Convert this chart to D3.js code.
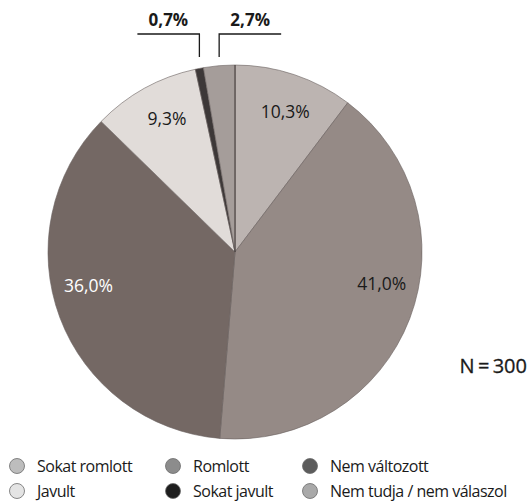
<!DOCTYPE html>
<html>
<head>
<meta charset="utf-8">
<script src="https://cdn.jsdelivr.net/npm/d3@7"></script>
<style>
  body { margin: 0; background: #fff; }
  svg { font-family: "Open Sans", sans-serif; }
</style>
</head>
<body>
<svg id="chart" width="528" height="502"></svg>
<script>
// Data.
var categories = [ 'Sokat romlott', 'Romlott', 'Nem változott', 'Javult', 'Sokat javult', 'Nem tudja / nem válaszol' ];
var values     = [ 10.3, 41.0, 36.0, 9.3, 0.7, 2.7 ];
var sampleNote = 'N\u2009=\u2009300';

// Slice fills and legend swatches (legend uses plain greys).
var sliceColors  = [ '#bcb4b1', '#958a86', '#746864', '#e1dcd9', '#3d3838', '#a59d9a' ];
var legendColors = [ '#bdbdbd', '#8c8c8c', '#5c5c5c', '#e4e4e4', '#1e1e1e', '#a9a9a9' ];
var labelColors  = [ '#1a1a1a', '#1a1a1a', '#ffffff', '#1a1a1a' ];
// Small angle nudges (degrees) for the inside labels.
var labelNudge   = [ 1, -9, 8, 2 ];
// Callout direction for the two tiny slices.
var calloutDir   = { 4: -1, 5: 1 };

var svg = d3.select( '#chart' );

var cx = 235, cy = 252, radius = 187;

var fmt = function( v ) { return d3.format( '.1f' )( v ).replace( '.', ',' ) + '%'; };

var pie = d3.pie().sort( null ).value( function( d ) { return d; } );
var arcs = pie( values );

var arc = d3.arc().innerRadius( 0 ).outerRadius( radius );

var g = svg.append( 'g' )
  .attr( 'transform', 'translate(' + cx + ',' + cy + ')' );

g.selectAll( 'path.slice' )
  .data( arcs )
  .enter()
  .append( 'path' )
    .attr( 'class', 'slice' )
    .attr( 'd', arc )
    .style( 'fill', function( d, i ) { return sliceColors[ i ]; } )
    .style( 'stroke', '#6a6260' )
    .style( 'stroke-width', 0.6 );

// Dark seam at 12 o'clock.
g.append( 'line' )
  .attr( 'x1', 0 ).attr( 'y1', 0 )
  .attr( 'x2', 0 ).attr( 'y2', -radius )
  .style( 'stroke', '#3a3434' )
  .style( 'stroke-width', 0.8 );

// Inside labels.
var labelR = 150;
g.selectAll( 'text.inside' )
  .data( arcs.slice( 0, 4 ) )
  .enter()
  .append( 'text' )
    .attr( 'class', 'inside' )
    .attr( 'x', function( d, i ) {
      var a = ( d.startAngle + d.endAngle ) / 2 + labelNudge[ i ] * Math.PI / 180;
      return labelR * Math.sin( a );
    })
    .attr( 'y', function( d, i ) {
      var a = ( d.startAngle + d.endAngle ) / 2 + labelNudge[ i ] * Math.PI / 180;
      return -labelR * Math.cos( a );
    })
    .attr( 'text-anchor', 'middle' )
    .attr( 'dominant-baseline', 'central' )
    .style( 'font-size', '17.5px' )
    .style( 'fill', function( d, i ) { return labelColors[ i ]; } )
    .text( function( d ) { return fmt( d.data ); } );

// Callouts for the tiny slices.
arcs.slice( 4 ).forEach( function( d, k ) {
  var i = k + 4,
      a = ( d.startAngle + d.endAngle ) / 2,
      x = radius * Math.sin( a ),
      yLow = -radius - 8,
      yHigh = -radius - 31,
      x2 = x + calloutDir[ i ] * 62;

  g.append( 'path' )
    .attr( 'd', 'M' + x + ',' + yLow + 'V' + yHigh + 'H' + x2 )
    .style( 'fill', 'none' )
    .style( 'stroke', '#1a1a1a' )
    .style( 'stroke-width', 1.3 );

  g.append( 'text' )
    .attr( 'x', ( x + x2 ) / 2 )
    .attr( 'y', yHigh - 8 )
    .attr( 'text-anchor', 'middle' )
    .style( 'font-size', '17px' )
    .style( 'font-weight', 'bold' )
    .style( 'fill', '#1a1a1a' )
    .text( fmt( d.data ) );
});

// Sample size note.
svg.append( 'text' )
  .attr( 'x', 527 )
  .attr( 'y', 373 )
  .attr( 'text-anchor', 'end' )
  .style( 'font-size', '20px' )
  .style( 'fill', '#1a1a1a' )
  .style( 'stroke', '#1a1a1a' )
  .style( 'stroke-width', 0.3 )
  .text( sampleNote );

// Legend: 3 columns x 2 rows.
var colX = [ 17, 173, 310 ],
    rowY = [ 466, 491 ];

var item = svg.selectAll( 'g.legend' )
  .data( categories )
  .enter()
  .append( 'g' )
    .attr( 'class', 'legend' )
    .attr( 'transform', function( d, i ) {
      return 'translate(' + colX[ i % 3 ] + ',' + rowY[ Math.floor( i / 3 ) ] + ')';
    });

item.append( 'circle' )
  .attr( 'r', 7.5 )
  .style( 'fill', function( d, i ) { return legendColors[ i ]; } )
  .style( 'stroke', '#6b6b6b' )
  .style( 'stroke-width', 0.8 );

item.append( 'text' )
  .attr( 'x', 20 )
  .attr( 'dy', '0.35em' )
  .style( 'font-size', '16px' )
  .style( 'letter-spacing', '-0.5px' )
  .style( 'fill', '#1a1a1a' )
  .text( function( d ) { return d; } );
</script>
</body>
</html>
